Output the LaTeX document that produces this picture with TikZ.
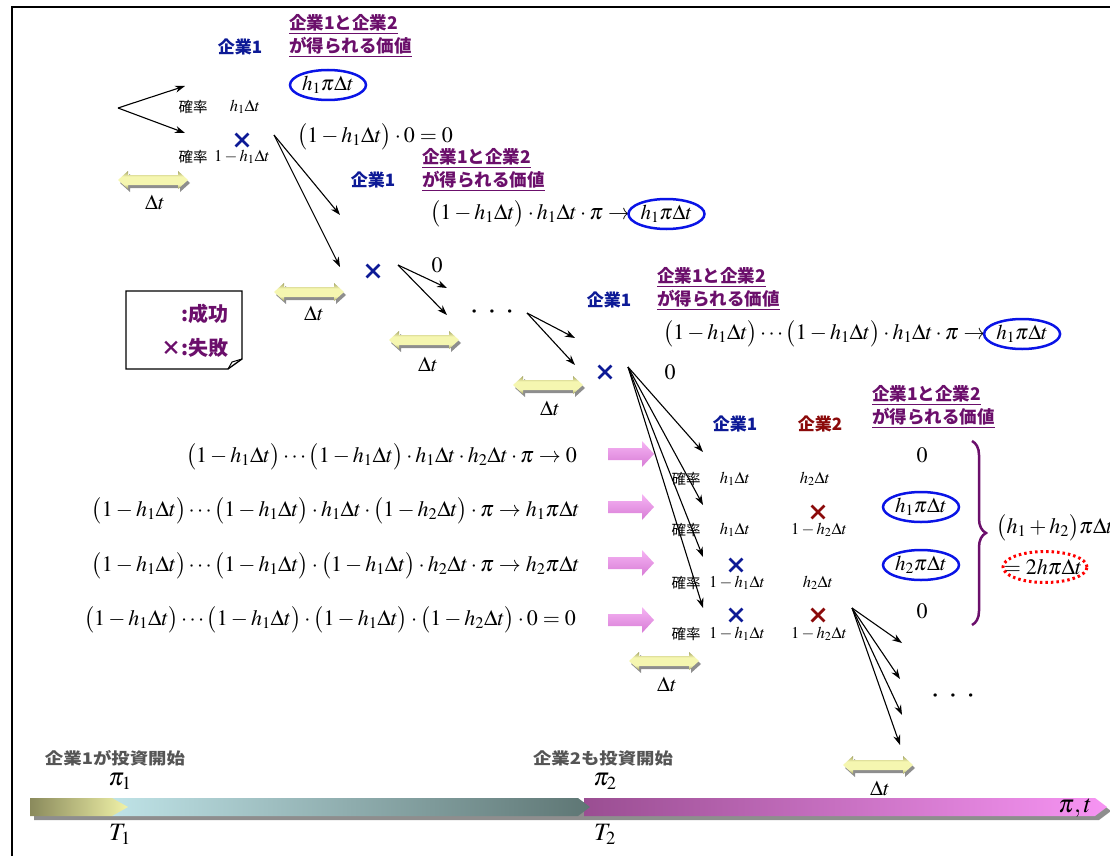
\documentclass[tikz,border=0pt]{standalone}
\usepackage[no-math]{fontspec}
\usepackage{mathptmx}
\usepackage{graphicx}
\newfontfamily\jp{Noto Sans CJK JP}
\usetikzlibrary{shapes.geometric,shapes.misc,arrows.meta,decorations.pathreplacing}
\definecolor{cblue}{HTML}{0D1A96}
\definecolor{cred}{HTML}{8B0A0A}
\definecolor{purp}{HTML}{6B0F6B}
\definecolor{ellblue}{HTML}{0A14E6}
\definecolor{grayt}{HTML}{555555}
\definecolor{olive}{HTML}{A3A363}
\definecolor{lyel}{HTML}{F5F6B0}
\definecolor{shgray}{HTML}{8E8E8E}
\definecolor{pinkL}{HTML}{F6B4F4}
\definecolor{pinkD}{HTML}{D77CD5}
\definecolor{barAL}{HTML}{8A8A5C}
\definecolor{barAR}{HTML}{F0F2A8}
\definecolor{barBL}{HTML}{BFE3E7}
\definecolor{barBR}{HTML}{5E7674}
\definecolor{barCL}{HTML}{9A4E92}
\definecolor{barCR}{HTML}{F794F3}
\pgfdeclareverticalshading{dtshade}{100bp}{color(0bp)=(olive); color(25bp)=(olive); color(38bp)=(lyel); color(60bp)=(lyel); color(75bp)=(olive); color(100bp)=(olive)}
\newcommand{\FS}[2]{\fontsize{#1}{#2}\selectfont}
\newcommand{\OneM}[1]{\bigl(1-h_{#1}\Delta t\bigr)}
\newcommand{\Hdt}[1]{h_{#1}\Delta t}
\tikzset{
  corpA/.style={text=cblue, font=\jp\bfseries\FS{17}{20}, inner sep=0},
  corpB/.style={text=cred, font=\jp\bfseries\FS{17}{20}, inner sep=0},
  hdr/.style={text=purp, font=\jp\bfseries\FS{17.5}{22.5}, align=left, inner sep=0, anchor=west},
  prob/.style={font=\jp\FS{14.5}{16}, inner sep=0},
  pm/.style={font=\FS{16.5}{19}, inner sep=0},
  eq/.style={font=\FS{22}{26}, inner sep=0},
  val/.style={draw=ellblue, line width=2.5pt, ellipse, minimum width=76pt, minimum height=30pt, inner sep=0, font=\FS{21}{25}},
  xb/.style={cross out, draw=cblue, line width=2.8pt, minimum size=10pt, inner sep=0},
  xr/.style={xb, draw=cred},
  dtlab/.style={font=\FS{21}{24}, inner sep=0},
  conn/.style={-{Stealth[length=10pt,width=7pt]}, line width=1.1pt},
  legend/.style={text=purp, font=\jp\bfseries\FS{20}{24}, inner sep=0},
  startlab/.style={text=grayt, font=\jp\bfseries\FS{16}{18}, inner sep=0},
  axlab/.style={font=\FS{25}{28}, inner sep=0},
  dotsty/.style={font=\FS{15}{16}, inner sep=0},
  dtarrow/.pic={
    \fill[shgray, shift={(2,3)}] (-35,0) -- (-25,-9) -- (-25,-5) -- (25,-5) -- (25,-9) -- (35,0) -- (25,9) -- (25,5) -- (-25,5) -- (-25,9) -- cycle;
    \shade[shading=dtshade] (-35,0) -- (-25,-9) -- (-25,-5) -- (25,-5) -- (25,-9) -- (35,0) -- (25,9) -- (25,5) -- (-25,5) -- (-25,9) -- cycle;
  },
  pinkarrow/.pic={
    \shade[top color=pinkL, bottom color=pinkD] (-23,-6) -- (11,-6) -- (11,-13) -- (23,0) -- (11,13) -- (11,6) -- (-23,6) -- cycle;
  }
}
\begin{document}
\begin{tikzpicture}[x=1pt,y=-1pt]
\useasboundingbox (0,0) rectangle (1110,856);
% frame
\draw[line width=1.6pt] (12,856) -- (12,7) -- (1110,7);

% ---------- stage 1
\coordinate (o1) at (118,108);
\coordinate (a1) at (185,86);
\coordinate (b1) at (185,133);
\draw[conn] (o1) -- (a1);
\draw[conn] (o1) -- (b1);
\node[corpA] (c1) at (240,47) {企業1};
\node[hdr] (hd1) at (289,36) {\underline{企業1と企業2}\\\underline{が得られる価値}};
\node[val] (v1) at (328,85) {$h_1\pi\Delta t$};
\node[prob] (p1a) at (193,107) {確率};
\node[pm] (q1a) at (245,107) {$\Hdt1$};
\node[xb] (x1) at (242,140) {};
\node[prob] (p1b) at (193,157) {確率};
\node[pm] (q1b) at (242,157) {$1-\Hdt1$};
\node[eq, anchor=west] (e0) at (297,137) {$\OneM1\cdot 0=0$};
\pic at (153,180) {dtarrow};
\node[dtlab] (d1) at (155,202) {$\Delta t$};

% ---------- stage 2
\coordinate (o2) at (274,135);
\coordinate (a2) at (340,215);
\coordinate (b2) at (340,267);
\draw[conn] (o2) -- (a2);
\draw[conn] (o2) -- (b2);
\node[corpA] (c2) at (373,180) {企業1};
\node[hdr] (hd2) at (422,170) {\underline{企業1と企業2}\\\underline{が得られる価値}};
\node[eq, anchor=west] (e1) at (430,214) {$\OneM1\cdot \Hdt1\cdot\pi\rightarrow$};
\node[val, anchor=west] (v2) at ([xshift=-3pt]e1.east) {$h_1\pi\Delta t$};
\node[xb] (x2) at (373,271) {};
\node[eq] (z2) at (437,265) {$0$};
\coordinate (o3) at (398,265);
\coordinate (a3) at (447,288);
\coordinate (b3) at (447,315);
\draw[conn] (o3) -- (a3);
\draw[conn] (o3) -- (b3);
\pic at (309,292) {dtarrow};
\node[dtlab] (d2) at (314,313) {$\Delta t$};
\node[dotsty] (dots1) at (492,313) {\textbullet\hspace{7pt}\textbullet\hspace{7pt}\textbullet};
\coordinate (o4) at (527,313);
\coordinate (a4) at (575,338);
\coordinate (b4) at (575,365);
\draw[conn] (o4) -- (a4);
\draw[conn] (o4) -- (b4);
\pic at (424,340) {dtarrow};
\node[dtlab] (d3) at (428,364) {$\Delta t$};

% ---------- stage 3
\node[corpA] (c3) at (609,300) {企業1};
\node[hdr] (hd3) at (657,289) {\underline{企業1と企業2}\\\underline{が得られる価値}};
\node[eq, anchor=west] (e2) at (663,334) {$\OneM1\cdots\OneM1\cdot \Hdt1\cdot\pi\rightarrow$};
\node[val, anchor=west] (v3) at ([xshift=-3pt]e2.east) {$h_1\pi\Delta t$};
\node[xb] (x3) at (605,372) {};
\node[eq] (z3) at (670,372) {$0$};
\pic at (548,385) {dtarrow};
\node[dtlab] (d4) at (550,408) {$\Delta t$};

% ---------- legend
\draw[line width=1.3pt, fill=white] (126,291) -- (242,291) -- (242,359) -- (228,369) -- (126,369) -- cycle;
\draw[line width=1pt] (242,359) -- (232,362) -- (228,369);
\node[legend, anchor=east] (lg1) at (229,314) {:成功};
\node[legend, anchor=east] (lg2) at (229,348) {×:失敗};

% ---------- stage 4 (two firms)
\coordinate (o5) at (628,367);
\coordinate (t5a) at (703,452);
\coordinate (t5b) at (703,505);
\coordinate (t5c) at (703,557);
\coordinate (t5d) at (703,608);
\draw[conn] (o5) -- (t5a);
\draw[conn] (o5) -- (t5b);
\draw[conn] (o5) -- (t5c);
\draw[conn] (o5) -- (t5d);
\node[corpA] (c4) at (735,424) {企業1};
\node[corpB] (c5) at (820,424) {企業2};
\node[hdr] (hd4) at (872,407) {\underline{企業1と企業2}\\\underline{が得られる価値}};

\node[prob] (r1p) at (686,479) {確率};
\node[pm] (r1a) at (735,479) {$\Hdt1$};
\node[pm] (r1b) at (815,479) {$\Hdt2$};
\node[eq] (r1v) at (922,455) {$0$};

\node[xr] (r2x) at (818,512) {};
\node[prob] (r2p) at (686,530) {確率};
\node[pm] (r2a) at (735,530) {$\Hdt1$};
\node[pm] (r2b) at (819,530) {$1-\Hdt2$};
\node[val] (r2v) at (921,507) {$h_1\pi\Delta t$};

\node[xb] (r3x) at (736,565) {};
\node[prob] (r3p) at (686,583) {確率};
\node[pm] (r3a) at (737,583) {$1-\Hdt1$};
\node[pm] (r3b) at (818,583) {$\Hdt2$};
\node[val] (r3v) at (921,565) {$h_2\pi\Delta t$};

\node[xb] (r4x) at (736,615) {};
\node[xr] (r4y) at (818,615) {};
\node[prob] (r4p) at (686,634) {確率};
\node[pm] (r4a) at (737,634) {$1-\Hdt1$};
\node[pm] (r4b) at (819,634) {$1-\Hdt2$};
\node[eq] (r4v) at (922,611) {$0$};

\draw[purp, line width=2.5pt, decorate, decoration={brace, amplitude=14pt}] (972,441) -- (972,625);
\node[eq] (s1) at (1055,528) {$\bigl(h_1+h_2\bigr)\pi\Delta t$};
\node[eq] (s2) at (1043,567) {$=2h\pi\Delta t$};
\node[ellipse, draw=red, line width=3pt, dash pattern=on 2.5pt off 3pt, minimum width=84pt, minimum height=31pt, inner sep=0] (s2e) at (1045,567) {};

% pink arrows and equations
\pic at (631,454) {pinkarrow};
\pic at (631,507) {pinkarrow};
\pic at (631,563) {pinkarrow};
\pic at (631,620) {pinkarrow};
\node[eq, anchor=east] (f1) at (577,457) {$\OneM1\cdots\OneM1\cdot \Hdt1\cdot \Hdt2\cdot\pi\rightarrow 0$};
\node[eq, anchor=east] (f2) at (580,511) {$\OneM1\cdots\OneM1\cdot \Hdt1\cdot \OneM2\cdot\pi\rightarrow h_1\pi\Delta t$};
\node[eq, anchor=east] (f3) at (580,566) {$\OneM1\cdots\OneM1\cdot \OneM1\cdot \Hdt2\cdot\pi\rightarrow h_2\pi\Delta t$};
\node[eq, anchor=east] (f4) at (576,620) {$\OneM1\cdots\OneM1\cdot \OneM1\cdot \OneM2\cdot 0=0$};

\pic at (664,661) {dtarrow};
\node[dtlab] (d5) at (667,684) {$\Delta t$};

% ---------- stage 5
\coordinate (o6) at (852,608);
\coordinate (t6a) at (902,643);
\coordinate (t6b) at (900,679);
\coordinate (t6c) at (902,715);
\coordinate (t6d) at (900,745);
\draw[conn] (o6) -- (t6a);
\draw[conn] (o6) -- (t6b);
\draw[conn] (o6) -- (t6c);
\draw[conn] (o6) -- (t6d);
\node[dotsty] (dots2) at (953,697) {\textbullet\hspace{7pt}\textbullet\hspace{7pt}\textbullet};
\pic at (878,765) {dtarrow};
\node[dtlab] (d6) at (880,788) {$\Delta t$};

% ---------- time bar
\fill[shgray] (34,802) -- (1099,802) -- (1111,811) -- (1099,820) -- (34,820) -- cycle;
\shade[left color=barCL, right color=barCR] (584,798) -- (1095,798) -- (1107,807) -- (1095,816) -- (584,816) -- cycle;
\shade[left color=barBL, right color=barBR] (112,798) -- (578,798) -- (590,807) -- (578,816) -- (112,816) -- cycle;
\shade[left color=barAL, right color=barAR] (30,798) -- (112,798) -- (128,807) -- (112,816) -- (30,816) -- cycle;
\node[startlab] (st1) at (115,758) {\scalebox{1.15}[1]{企業1が投資開始}};
\node[startlab] (st2) at (603,758) {\scalebox{1.15}[1]{企業2も投資開始}};
\node[axlab] (pi1) at (120,781) {$\pi_1$};
\node[axlab] (T1) at (120,834) {$T_1$};
\node[axlab] (pi2) at (605,781) {$\pi_2$};
\node[axlab] (T2) at (605,834) {$T_2$};
\node[axlab] (pt) at (1075,808) {$\pi,t$};
\end{tikzpicture}
\end{document}
